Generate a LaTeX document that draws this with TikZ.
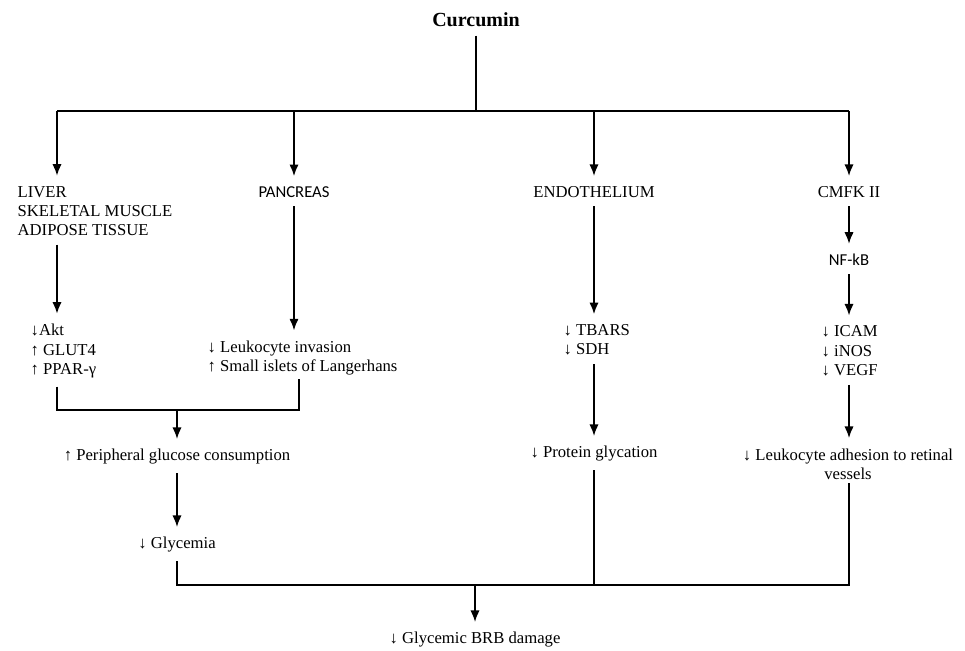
\documentclass[tikz,border=0pt]{standalone}
\usepackage{fontspec}
\setmainfont{Liberation Serif}
\newfontfamily\calfont{Carlito}
\usetikzlibrary{arrows.meta}
\newcommand{\incr}{↑}
\newcommand{\decr}{↓}
\tikzset{
  txt/.style = {inner sep=2pt, font=\fontsize{10}{11.6}\selectfont},
  TxtLeft/.style = {txt, align=left, anchor=west},
  TxtCenter/.style = {txt, align=center},
  SansNode/.style = {inner sep=2pt, font=\calfont\fontsize{10}{12}\selectfont},
  TitleNode/.style = {inner sep=2pt, font=\bfseries\fontsize{12}{14}\selectfont},
  wire/.style = {line width=1.1pt},
  stem/.style = {wire, shorten <=3pt},
  arr/.style = {->, shorten >=4pt}
}

\begin{document}
\begin{tikzpicture}[x=0.6pt, y=-0.6pt, >={Latex[length=7pt,width=5.6pt]}]
  \useasboundingbox (0,0) rectangle (965,651);
  % top
  \node [TitleNode] (cur) at (476,20) {Curcumin};
  \coordinate (splitL) at (57,111);
  \coordinate (splitR) at (849,111);
  % organs
  \node [TxtLeft] (liver) at (14,211) {LIVER\\SKELETAL MUSCLE\\ADIPOSE TISSUE};
  \node [SansNode] (panc) at (294,192) {PANCREAS};
  \node [TxtCenter] (endo) at (594,192) {ENDOTHELIUM};
  \node [TxtCenter] (cmfk) at (849,192) {CMFK II};
  \node [SansNode] (nfkb) at (849,260) {NF-kB};
  % markers
  \node [TxtLeft] (akt) at (27,351) {\decr Akt\\\incr{} GLUT4\\\incr{} PPAR-γ};
  \node [TxtLeft] (leuk) at (204,358) {\decr{} Leukocyte invasion\\\incr{} Small islets of Langerhans};
  \node [TxtLeft] (tbars) at (560,340) {\decr{} TBARS\\\decr{} SDH};
  \node [TxtLeft] (icam) at (818,351) {\decr{} ICAM\\\decr{} iNOS\\\decr{} VEGF};
  \coordinate (joinL) at (57,410);
  \coordinate (joinR) at (299,410);
  % effects
  \node [TxtCenter] (perip) at (177,457) {\incr{} Peripheral glucose consumption};
  \node [TxtCenter] (protein) at (594,454) {\decr{} Protein glycation};
  \node [TxtCenter] (adhes) at (848,464) {\decr{} Leukocyte adhesion to retinal\\vessels};
  \node [TxtCenter] (glyc) at (177,545) {\decr{} Glycemia};
  \coordinate (mergeL) at (177,585);
  \coordinate (mergeR) at (849,585);
  \node [TxtCenter] (brb) at (475,640) {\decr{} Glycemic BRB damage};

  % connectors
  \draw [stem] (cur) -- (cur |- splitL);
  \draw [wire] (splitL) -- (splitR);
  \draw [wire, arr] (splitL) -- (splitL |- liver.north);
  \draw [wire, arr] (panc |- splitL) -- (panc);
  \draw [wire, arr] (endo |- splitL) -- (endo);
  \draw [wire, arr] (splitR) -- (cmfk);
  \draw [stem, arr] (splitL |- liver.south) -- (splitL |- akt.north);
  \draw [stem, arr] (panc) -- (panc |- leuk.north);
  \draw [stem, arr] (endo) -- (endo |- tbars.north);
  \draw [stem, arr] (cmfk) -- (nfkb);
  \draw [stem, arr] (nfkb) -- (nfkb |- icam.north);
  \draw [stem] (joinL |- akt.south) -- (joinL) -- (joinR) -- (joinR |- leuk.south);
  \draw [wire, arr] (perip |- joinL) -- (perip);
  \draw [stem, arr] (perip) -- (glyc);
  \draw [stem, arr] (endo |- tbars.south) -- (protein);
  \draw [stem, arr] (nfkb |- icam.south) -- (nfkb |- adhes.north);
  \draw [stem] (glyc) -- (mergeL) -- (mergeR) -- (mergeR |- adhes.south);
  \draw [stem] (protein) -- (protein |- mergeL);
  \draw [wire, arr] (brb |- mergeL) -- (brb);
\end{tikzpicture}
\end{document}
